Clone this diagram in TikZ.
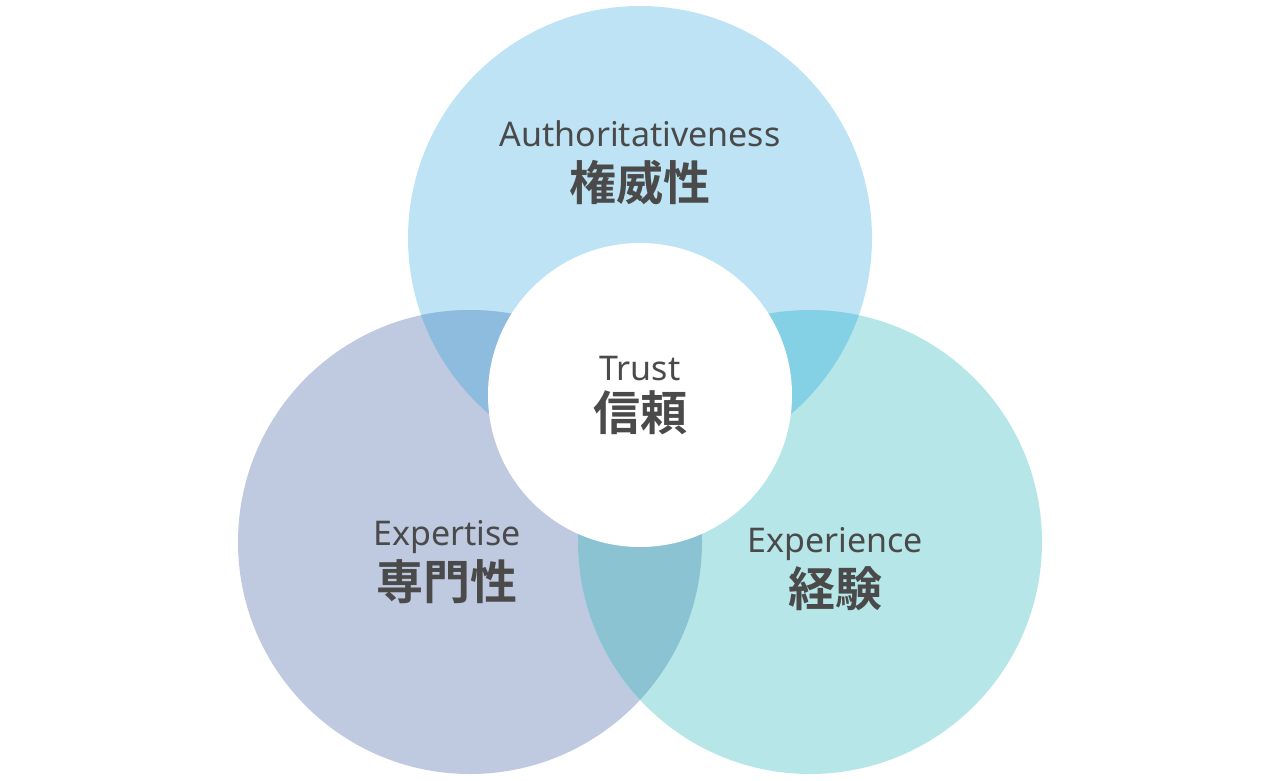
\documentclass[tikz,border=0pt]{standalone}
\usepackage{fontspec}
\setmainfont{Noto Sans}
\newfontfamily\cjkb{Noto Sans CJK JP Bold}
\definecolor{ctop}{HTML}{BDE3F4}
\definecolor{cleft}{HTML}{BFC9E0}
\definecolor{cright}{HTML}{B7E6E8}
\definecolor{ctl}{HTML}{8DBCDF}
\definecolor{ctr}{HTML}{84D1E5}
\definecolor{clr}{HTML}{8CC3D2}
\definecolor{txt}{HTML}{4A4A4A}
\begin{document}
\begin{tikzpicture}[x=1pt,y=-1pt,
  en/.style={text=txt,font=\fontsize{34}{37}\selectfont,inner sep=0pt},
  jp/.style={text=txt,font=\cjkb\fontsize{47}{50}\selectfont,inner sep=0pt}]
\useasboundingbox (0,0) rectangle (1280,781);
\def\R{232}
\coordinate (ct) at (640,238);
\coordinate (cl) at (470,542);
\coordinate (cr) at (810,542);
\fill[ctop] (ct) circle (\R);
\fill[cleft] (cl) circle (\R);
\fill[cright] (cr) circle (\R);
\begin{scope}
  \clip (ct) circle (\R);
  \fill[ctl] (cl) circle (\R);
  \fill[ctr] (cr) circle (\R);
\end{scope}
\begin{scope}
  \clip (cl) circle (\R);
  \fill[clr] (cr) circle (\R);
\end{scope}
\fill[white] (640,395) circle (152);
\node[en] (a1) at (640,134) {Authoritativeness};
\node[jp] (a2) at (640,182) {権威性};
\node[en] (t1) at (640,369) {Trust};
\node[jp] (t2) at (640,413) {信頼};
\node[en] (e1) at (447,537) {Expertise};
\node[jp] (e2) at (447,582) {専門性};
\node[en] (x1) at (835,544) {Experience};
\node[jp] (x2) at (835,589) {経験};
\end{tikzpicture}
\end{document}
